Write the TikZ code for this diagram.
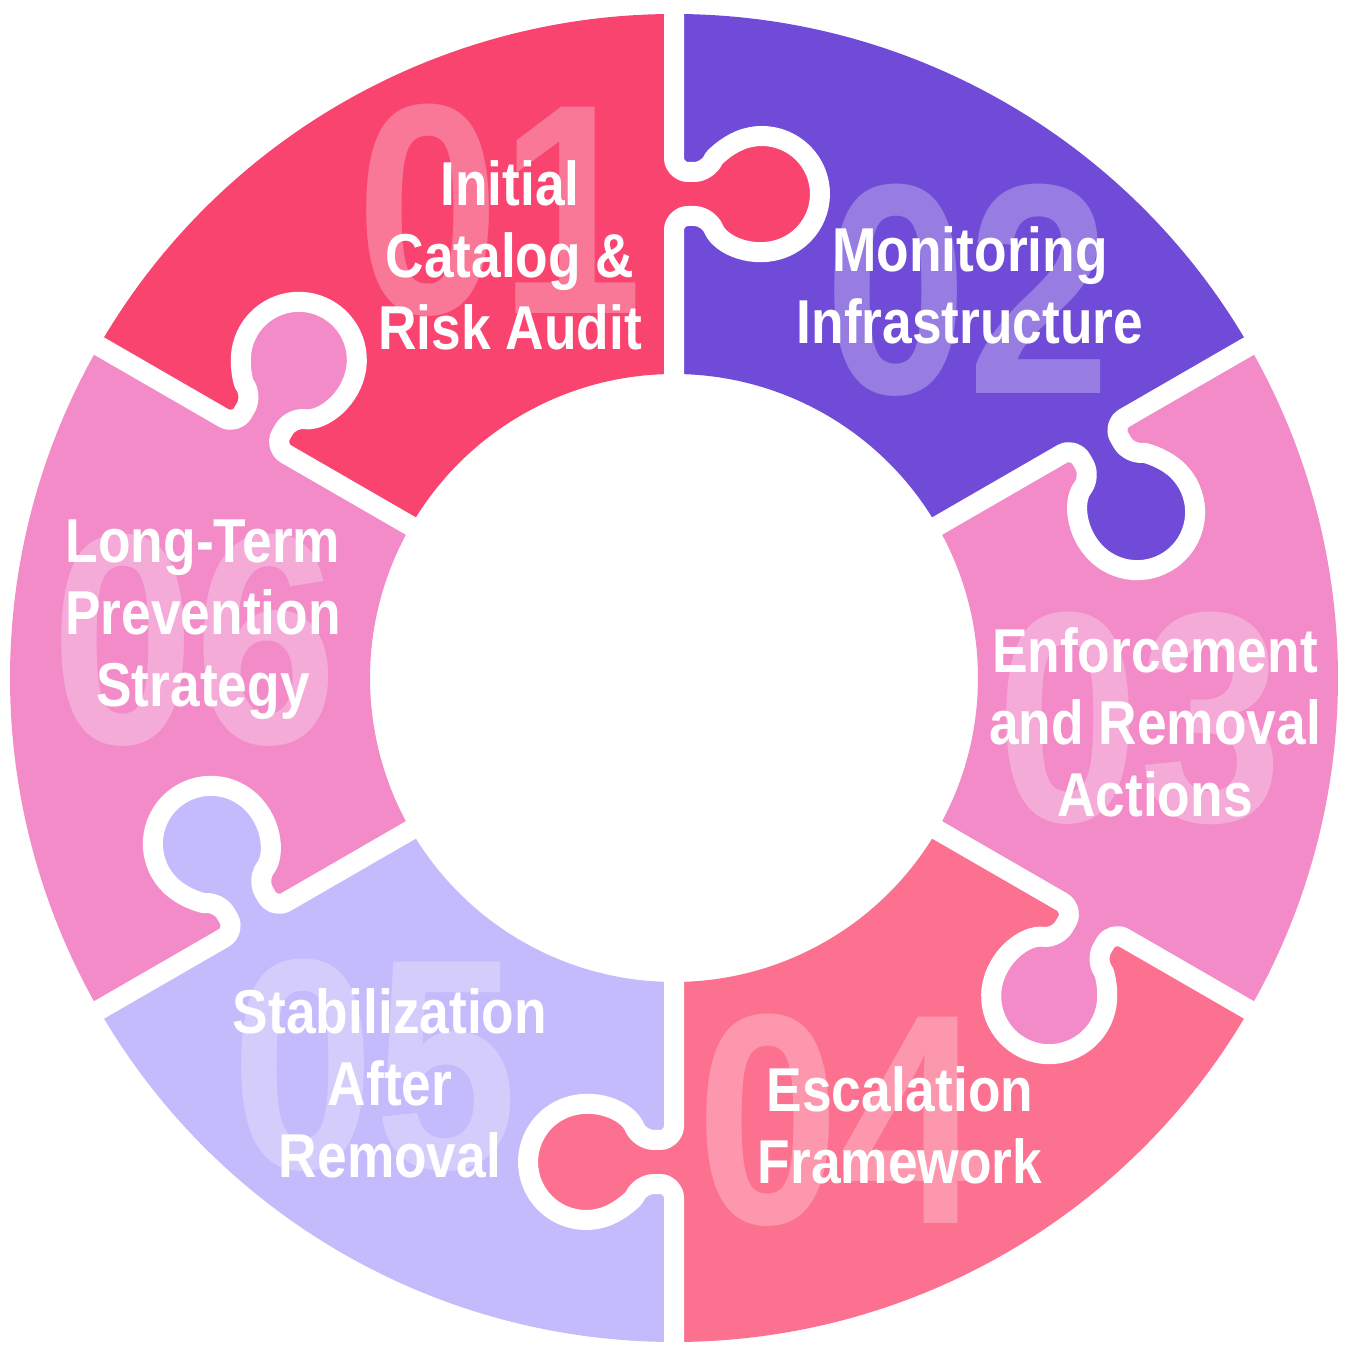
\documentclass[tikz,border=0pt]{standalone}
\usepackage{fontspec}
\setmainfont{Liberation Sans}[FakeStretch=0.86]
\definecolor{cA}{HTML}{F94470}
\definecolor{cB}{HTML}{6F4BD8}
\definecolor{cC}{HTML}{F28BC8}
\definecolor{cD}{HTML}{FC7090}
\definecolor{cE}{HTML}{C4BBFC}
\tikzset{
 lbl/.style={text=white,font=\fontsize{62}{72}\selectfont\bfseries,align=center},
 num/.style={text=white,opacity=0.28,font=\fontsize{300}{300}\selectfont\bfseries},
 gap/.style={white,line width=20pt,rounded corners=14pt,line join=round}
}
\begin{document}
\begin{tikzpicture}[x=1pt,y=1pt]
\fill[white] (0,0) rectangle (1353,1355);
\useasboundingbox (0,0) rectangle (1353,1355);
\begin{scope}[shift={(674,677)}]
\foreach \a/\b/\c in {90/150/cA,30/90/cB,-30/30/cC,-90/-30/cD,-150/-90/cE,150/210/cC}{
  \fill[\c] (\a:664) arc[start angle=\a,end angle=\b,radius=664] -- (\b:304) arc[start angle=\b,end angle=\a,radius=304] -- cycle;
}
\foreach \t/\c in {90/cA,30/cB,-30/cC,-90/cD,-150/cE,150/cC}{
  \begin{scope}[rotate=\t,yscale=-1]
  \fill[\c] (484,88) circle[radius=58];
  \fill[\c] (462,-12) rectangle (506,40);
  \end{scope}
}
\foreach \t in {90,30,-30,-90,-150,150}{
  \begin{scope}[rotate=\t,yscale=-1]
  \draw[gap] (290,0) -- (462,0) -- (462,34.3) arc[start angle=247.7,end angle=-67.7,radius=58] -- (506,0) -- (690,0);
  \end{scope}
}
\end{scope}
\node[num] (n1) at (500,1145) {01};
\node[num] (n2) at (968,1065) {02};
\node[num] (n3) at (1140,637) {03};
\node[num] (n4) at (840,235) {04};
\node[num] (n5) at (375,290) {05};
\node[num] (n6) at (195,715) {06};
\node[lbl] (l1) at (510,1100) {Initial\\Catalog \&\\Risk Audit};
\node[lbl] (l2) at (970,1070) {Monitoring\\Infrastructure};
\node[lbl] (l3) at (1155,633) {Enforcement\\and Removal\\Actions};
\node[lbl] (l4) at (900,230) {Escalation\\Framework};
\node[lbl] (l5) at (390,272) {Stabilization\\After\\Removal};
\node[lbl] (l6) at (203,735) {Long-Term\\Prevention\\Strategy};
\end{tikzpicture}
\end{document}
